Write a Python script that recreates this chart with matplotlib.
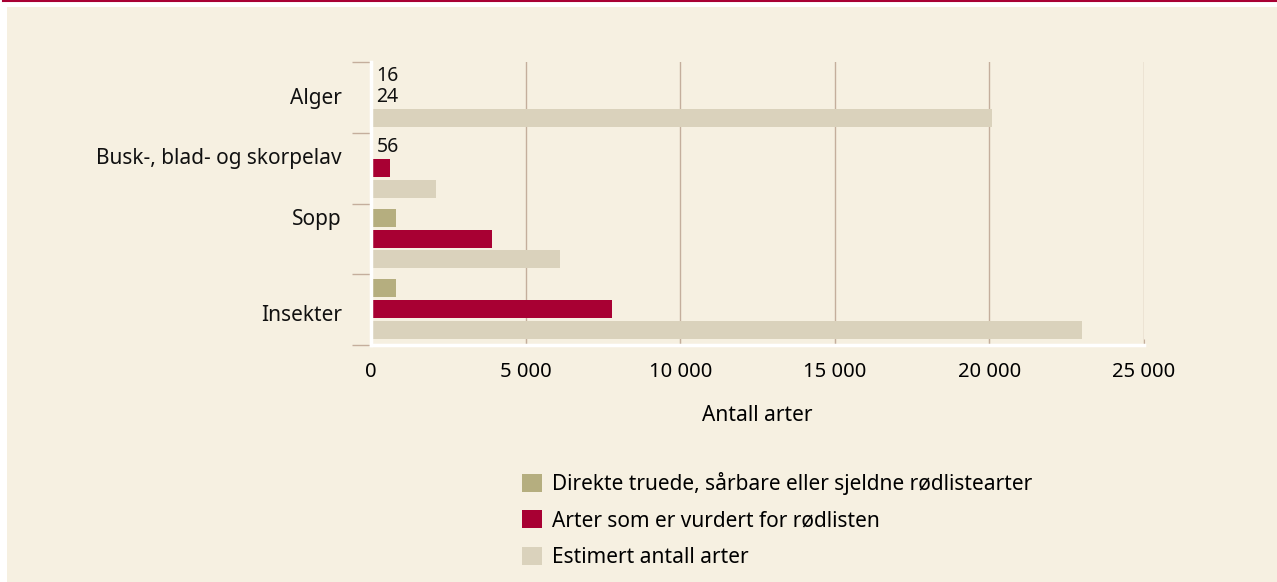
import numpy as np
import matplotlib.pyplot as plt
from matplotlib.patches import Rectangle
from matplotlib.lines import Line2D
from matplotlib.transforms import blended_transform_factory

plt.rcParams['font.family'] = ['Noto Sans', 'DejaVu Sans']

# Data
categories = ['Alger', 'Busk-, blad- og skorpelav', 'Sopp', 'Insekter']
series_names = ['Direkte truede, sårbare eller sjeldne rødlistearter',
                'Arter som er vurdert for rødlisten',
                'Estimert antall arter']
truede = [16, 56, 800, 800]
vurdert = [24, 600, 3900, 7800]
estimert = [20100, 2100, 6100, 23000]
# small values written as numbers instead of visible bars
small_labels = [(0, 0, '16'), (0, 1, '24'), (1, 0, '56')]
xticks = [0, 5000, 10000, 15000, 20000, 25000]
xticklabels = ['0', '5 000', '10 000', '15 000', '20 000', '25 000']

colors = ['#B5AE7F', '#A80033', '#DAD2BC']
bg = '#F6F0E1'
grid_c = '#C4AE9C'

fig = plt.figure(figsize=(12.77, 5.82), dpi=100)
fig.patch.set_facecolor('white')
fig.patches.append(Rectangle((7 / 1277, 0), 1, 1 - 7 / 582, transform=fig.transFigure,
                             facecolor=bg, edgecolor='none', zorder=-10))
fig.add_artist(Line2D([3 / 1277, 1], [1 - 1 / 582, 1 - 1 / 582], transform=fig.transFigure,
                      color='#A80033', lw=1.5))

ax = fig.add_axes([371 / 1277, 1 - 345 / 582, 773 / 1277, 283 / 582])
ax.set_facecolor(bg)

n = len(categories)
g = np.arange(n)
h = 0.255
offs = [0.2, 0.495, 0.79]
for k, vals in enumerate([truede, vurdert, estimert]):
    ax.barh(g + offs[k], vals, height=h, color=colors[k], label=series_names[k], zorder=3)

for gi, k, txt in small_labels:
    ax.annotate(txt, (0, gi + offs[k]), xytext=(4, 0), textcoords='offset points',
                ha='left', va='center', fontsize=14, color='#111111', zorder=4)

ax.set_xlim(0, 25000)
ax.set_ylim(n, 0)
ax.set_xticks(xticks)
ax.set_xticklabels(xticklabels, fontsize=14.5)
ax.xaxis.grid(True, color=grid_c, lw=1, zorder=1)
ax.tick_params(axis='x', direction='in', length=4, color=grid_c, pad=12)
ax.set_yticks(np.arange(n + 1))
ax.set_yticklabels([])
ax.tick_params(axis='y', direction='out', length=14, color=grid_c, width=1)

for s in ['top', 'right']:
    ax.spines[s].set_visible(False)
for s in ['left', 'bottom']:
    ax.spines[s].set_color('white')
    ax.spines[s].set_linewidth(2.5)
    ax.spines[s].set_zorder(5)

label_y = [0.51, 1.37, 2.23, 3.58]
tr = blended_transform_factory(fig.transFigure, ax.transData)
for name, y in zip(categories, label_y):
    ax.text(342 / 1277, y, name, transform=tr, ha='right', va='center', fontsize=15,
            color='#111111')

ax.set_xlabel('Antall arter', fontsize=15, labelpad=17)

ax.legend(loc='upper left', bbox_to_anchor=(512 / 1277, 1 - 462 / 582),
          bbox_transform=fig.transFigure, frameon=False, fontsize=15, borderpad=0,
          handlelength=0.95, handleheight=0.95, handletextpad=0.45, labelspacing=0.72)

fig.savefig('out.png', dpi=100, facecolor=fig.get_facecolor())
